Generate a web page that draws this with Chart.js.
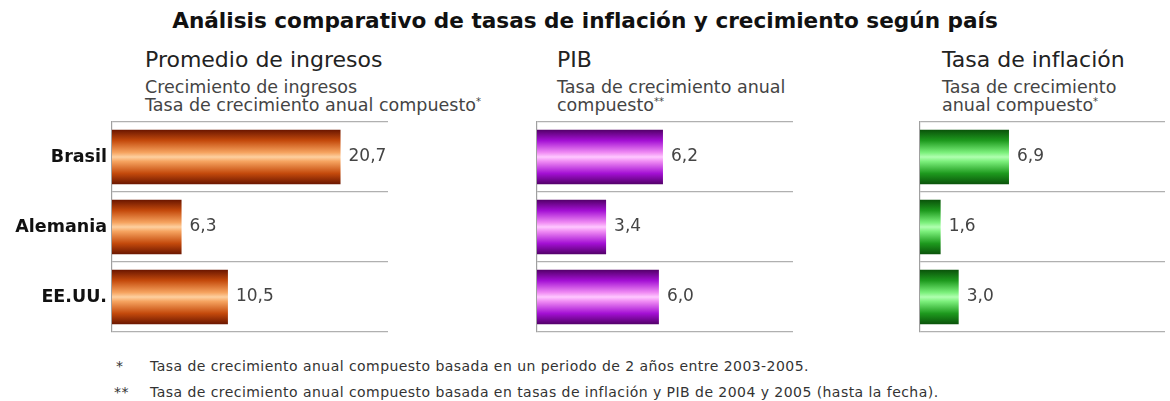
<!DOCTYPE html>
<html lang="es">
<head>
<meta charset="UTF-8">
<title>Tasas de inflación y crecimiento</title>
<script src="https://cdn.jsdelivr.net/npm/chart.js"></script>
<style>
  body { margin:0; width:1170px; height:401px; background:#fff; position:relative; overflow:hidden;
         font-family:"DejaVu Sans", Verdana, sans-serif; }
  .t { position:absolute; white-space:nowrap; }
  #titulo { left:0; width:1170px; top:8px; text-align:center; font-weight:bold; font-size:21.6px; color:#111; }
  .ptit { font-size:22px; color:#222; line-height:22px; }
  .psub { font-size:17.5px; color:#444; line-height:18px; }
  .psub sup { font-size:10px; vertical-align:6px; line-height:0; }
  .nota { font-size:14px; color:#333; letter-spacing:0.45px; }
  .caja { position:absolute; }
</style>
</head>
<body>
<div class="t" id="titulo">Análisis comparativo de tasas de inflación y crecimiento según país</div>

<div class="t ptit" style="left:145px;top:49px">Promedio de ingresos</div>
<div class="t psub" style="left:145px;top:78px">Crecimiento de ingresos<br>Tasa de crecimiento anual compuesto<sup>*</sup></div>

<div class="t ptit" style="left:557px;top:49px">PIB</div>
<div class="t psub" style="left:557px;top:78px">Tasa de crecimiento anual<br>compuesto<sup>**</sup></div>

<div class="t ptit" style="left:942px;top:49px">Tasa de inflación</div>
<div class="t psub" style="left:942px;top:78px">Tasa de crecimiento<br>anual compuesto<sup>*</sup></div>

<div class="caja" style="left:0px;top:120px;width:420px;height:214px"><canvas id="c1"></canvas></div>
<div class="caja" style="left:527px;top:120px;width:296px;height:214px"><canvas id="c2"></canvas></div>
<div class="caja" style="left:910px;top:120px;width:260px;height:214px"><canvas id="c3"></canvas></div>

<div class="t nota" style="left:116px;top:358px">*</div>
<div class="t nota" style="left:150px;top:358px">Tasa de crecimiento anual compuesto basada en un periodo de 2 años entre 2003-2005.</div>
<div class="t nota" style="left:114px;top:384px">**</div>
<div class="t nota" style="left:150px;top:384px">Tasa de crecimiento anual compuesto basada en tasas de inflación y PIB de 2004 y 2005 (hasta la fecha).</div>

<script>
const paises = ['Brasil', 'Alemania', 'EE.UU.'];
const ingresos = [20.7, 6.3, 10.5];
const pib = [6.2, 3.4, 6.0];
const inflacion = [6.9, 1.6, 3.0];

// colores del degradado de cada barra (borde, medio, centro)
const marron = ['#6a1600', '#c44a0c', '#f6a460', '#fdd0a0'];
const morado = ['#520068', '#a410d4', '#f08cf4', '#ffc8ff'];
const verde = ['#0a520a', '#1e9a1e', '#7cf07c', '#b0ffb0'];

const degradado = {
  id: 'degradado',
  beforeDatasetsDraw(chart) {
    const ctx = chart.ctx;
    const c = chart.config.options.plugins.degradado.colores;
    chart.getDatasetMeta(0).data.forEach(bar => {
      const top = bar.y - bar.height / 2, bot = bar.y + bar.height / 2;
      const g = ctx.createLinearGradient(0, top, 0, bot);
      g.addColorStop(0, c[0]);
      g.addColorStop(0.2, c[1]);
      g.addColorStop(0.42, c[2]);
      g.addColorStop(0.5, c[3]);
      g.addColorStop(0.58, c[2]);
      g.addColorStop(0.8, c[1]);
      g.addColorStop(1, c[0]);
      bar.options = Object.assign({}, bar.options, { backgroundColor: g });
    });
  },
  afterDatasetsDraw(chart) {
    const ctx = chart.ctx;
    const vals = chart.data.datasets[0].data;
    ctx.save();
    ctx.font = '17px "DejaVu Sans", Verdana, sans-serif';
    ctx.fillStyle = '#444';
    ctx.textBaseline = 'middle';
    chart.getDatasetMeta(0).data.forEach((bar, i) => {
      ctx.fillText(vals[i].toFixed(1).replace('.', ','), bar.x + 8, bar.y);
    });
    ctx.restore();
  }
};

function grafico(id, datos, max, colores, ancho, conEtiquetas, padDer) {
  return new Chart(document.getElementById(id), {
    type: 'bar',
    data: { labels: paises, datasets: [{ data: datos, barPercentage: 0.78, categoryPercentage: 1, borderWidth: 0 }] },
    options: {
      indexAxis: 'y',
      responsive: true,
      maintainAspectRatio: false,
      animation: false,
      layout: { padding: { top: 2, bottom: 2, right: padDer, left: 0 } },
      plugins: { legend: { display: false }, tooltip: { enabled: false }, degradado: { colores: colores } },
      scales: {
        x: { display: false, min: 0, max: max },
        y: {
          afterFit(s) { s.width = ancho; s.paddingTop = 0; s.paddingBottom = 0; },
          grid: { offset: true, color: '#b0b0b0', lineWidth: 1.2, drawTicks: false },
          border: { color: '#a0a0a0', width: 1.2 },
          ticks: {
            display: conEtiquetas, padding: 5, color: '#111',
            font: { family: '"DejaVu Sans", Verdana, sans-serif', size: 17.5, weight: 'bold' }
          }
        }
      }
    },
    plugins: [degradado]
  });
}

grafico('c1', ingresos, 25, marron, 112, true, 32);
grafico('c2', pib, 12.6, morado, 10, false, 30);
grafico('c3', inflacion, 19, verde, 10, false, 5);
</script>
</body>
</html>
